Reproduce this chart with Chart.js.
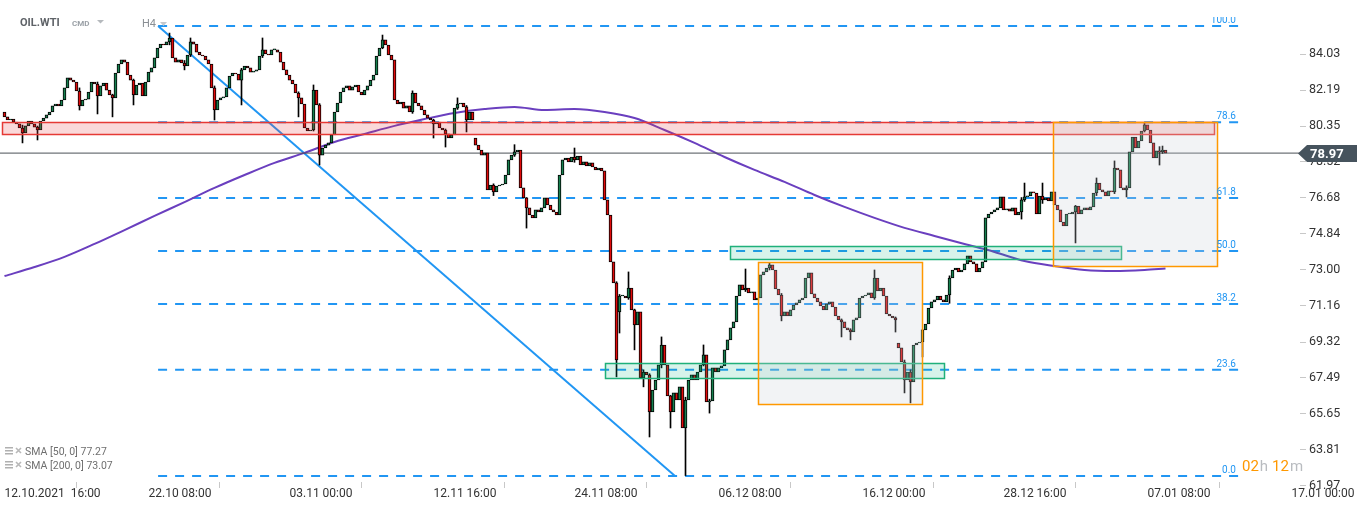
<!DOCTYPE html>
<html>
<head>
<meta charset="utf-8">
<script src="https://cdn.jsdelivr.net/npm/chart.js@4.4.0/dist/chart.umd.min.js"></script>
<style>
    html, body { margin: 0; padding: 0; background: #fff; }
    #wrap { width: 1368px; height: 509px; position: relative; }
</style>
</head>
<body>
<div id="wrap"><canvas id="oilChart"></canvas></div>
<script>
// OIL.WTI H4 candles, one entry per bar (bar 0 = 12.10.2021 16:00)
const opens = [
    81.07, 80.82, 80.66, 80.71, 80.56, 80.46, 80.25, 80.00, 80.36, 80.61,
    80.46, 80.30, 80.15, 80.61, 80.76, 80.92, 81.07, 81.38, 81.48, 81.38,
    81.68, 82.30, 82.81, 82.70, 82.60, 82.14, 81.38, 81.68, 81.73, 82.09,
    82.60, 82.50, 81.89, 82.40, 82.55, 82.19, 81.94, 81.79, 83.06, 83.52,
    83.73, 83.62, 82.96, 82.70, 81.94, 82.45, 82.55, 81.89, 82.60, 83.11,
    83.32, 83.83, 84.34, 84.54, 84.49, 84.65, 84.85, 83.83, 83.62, 83.73,
    83.57, 83.42, 83.98, 84.65, 84.54, 84.13, 83.98, 83.93, 83.73, 83.52,
    82.30, 81.17, 81.68, 81.79, 81.84, 82.30, 82.91, 83.06, 83.01, 82.70,
    83.22, 83.42, 83.32, 83.11, 83.16, 83.22, 83.93, 84.24, 84.03, 83.98,
    84.24, 84.24, 84.13, 83.62, 83.22, 82.96, 82.70, 82.50, 82.04, 81.79,
    81.48, 80.25, 80.10, 80.15, 82.19, 81.43, 78.87, 79.23, 79.38, 79.49,
    79.90, 81.07, 81.53, 82.09, 82.30, 82.40, 82.19, 82.35, 82.45, 82.09,
    81.94, 82.19, 82.40, 82.70, 82.96, 83.93, 84.34, 84.75, 84.49, 83.98,
    83.73, 81.68, 81.48, 81.58, 81.27, 81.38, 81.07, 82.04, 81.53, 81.38,
    81.17, 80.92, 80.76, 80.66, 80.46, 80.56, 80.25, 80.15, 79.95, 79.74,
    79.90, 81.27, 81.48, 81.53, 81.33, 80.66, 81.07, 79.74, 79.38, 79.13,
    78.87, 78.98, 77.09, 77.34, 76.99, 77.29, 77.34, 77.39, 77.85, 78.62,
    78.87, 79.03, 79.13, 77.19, 76.68, 76.17, 75.81, 75.66, 76.07, 75.96,
    76.17, 76.68, 76.32, 76.07, 75.96, 75.81, 77.85, 78.62, 78.72, 78.52,
    78.77, 78.62, 78.82, 78.36, 78.52, 78.31, 78.47, 78.26, 78.11, 78.21,
    78.06, 76.58, 75.81, 73.41, 72.34, 70.86, 71.67, 71.67, 71.57, 72.08,
    70.96, 70.19, 70.86, 67.49, 67.79, 67.64, 65.75, 66.87, 67.38, 68.15,
    69.17, 68.15, 66.57, 65.75, 66.72, 66.36, 67.03, 64.93, 66.36, 67.38,
    67.64, 67.38, 67.79, 68.15, 68.66, 66.26, 66.31, 68.00, 67.79, 68.00,
    68.10, 68.92, 69.43, 70.04, 70.35, 71.67, 72.24, 71.98, 72.08, 71.83,
    71.88, 71.47, 71.57, 72.75, 72.90, 73.10, 73.26, 73.00, 72.03, 71.72,
    70.65, 70.86, 70.65, 70.96, 71.21, 71.32, 71.47, 71.57, 72.59, 72.85,
    71.78, 71.57, 71.37, 71.16, 70.96, 71.27, 71.37, 71.11, 70.65, 70.45,
    70.35, 70.04, 69.94, 69.84, 70.45, 70.55, 71.57, 71.67, 71.72, 71.83,
    71.57, 72.59, 71.93, 72.08, 71.67, 70.75, 70.65, 70.55, 69.27, 69.02,
    68.30, 67.38, 67.79, 67.28, 69.17, 69.27, 69.32, 69.94, 70.24, 71.06,
    71.37, 71.47, 71.67, 71.47, 71.37, 71.72, 72.59, 73.00, 73.10, 72.90,
    73.00, 73.31, 73.72, 73.41, 73.31, 72.90, 73.10, 73.41, 75.66, 75.86,
    75.96, 76.07, 76.17, 76.73, 76.07, 76.12, 76.01, 76.17, 75.81, 75.96,
    76.58, 76.73, 76.78, 76.99, 76.93, 75.86, 76.78, 76.58, 76.68, 76.53,
    76.99, 76.32, 76.07, 75.45, 75.25, 75.86, 75.86, 75.96, 76.27, 75.86,
    76.07, 76.17, 76.07, 76.22, 76.93, 77.44, 77.09, 76.99, 76.78, 77.04,
    76.99, 78.21, 78.11, 77.19, 77.09, 77.19, 79.03, 79.79, 79.23, 79.59,
    80.10, 80.41, 80.15, 79.49, 78.72, 79.08, 79.03, 79.13
];
const closes = [
    80.82, 80.66, 80.71, 80.56, 80.46, 80.25, 80.00, 80.36, 80.61, 80.46,
    80.30, 80.15, 80.61, 80.76, 80.92, 81.07, 81.38, 81.48, 81.38, 81.68,
    82.30, 82.81, 82.70, 82.60, 82.14, 81.38, 81.68, 81.73, 82.09, 82.60,
    82.50, 81.89, 82.40, 82.55, 82.19, 81.94, 81.79, 83.06, 83.52, 83.73,
    83.62, 82.96, 82.70, 81.94, 82.45, 82.55, 81.89, 82.60, 83.11, 83.32,
    83.83, 84.34, 84.54, 84.49, 84.65, 84.85, 83.83, 83.62, 83.73, 83.57,
    83.42, 83.98, 84.65, 84.54, 84.13, 83.98, 83.93, 83.73, 83.52, 82.30,
    81.17, 81.68, 81.79, 81.84, 82.30, 82.91, 83.06, 83.01, 82.70, 83.22,
    83.42, 83.32, 83.11, 83.16, 83.22, 83.93, 84.24, 84.03, 83.98, 84.24,
    84.24, 84.13, 83.62, 83.22, 82.96, 82.70, 82.50, 82.04, 81.79, 81.48,
    80.25, 80.10, 80.15, 82.19, 81.43, 78.87, 79.23, 79.38, 79.49, 79.90,
    81.07, 81.53, 82.09, 82.30, 82.40, 82.19, 82.35, 82.45, 82.09, 81.94,
    82.19, 82.40, 82.70, 82.96, 83.93, 84.34, 84.75, 84.49, 83.98, 83.73,
    81.68, 81.48, 81.58, 81.27, 81.38, 81.07, 82.04, 81.53, 81.38, 81.17,
    80.92, 80.76, 80.66, 80.46, 80.56, 80.25, 80.15, 79.95, 79.74, 79.90,
    81.27, 81.48, 81.53, 81.33, 80.66, 81.07, 80.66, 79.38, 79.13, 78.87,
    78.98, 77.09, 77.34, 76.99, 77.29, 77.34, 77.39, 77.85, 78.62, 78.87,
    79.03, 79.13, 77.19, 76.68, 76.17, 75.81, 75.66, 76.07, 75.96, 76.17,
    76.68, 76.32, 76.07, 75.96, 75.81, 77.85, 78.62, 78.72, 78.52, 78.77,
    78.62, 78.82, 78.36, 78.52, 78.31, 78.47, 78.26, 78.11, 78.21, 78.06,
    76.58, 75.81, 73.41, 72.34, 68.40, 71.67, 71.67, 71.57, 72.08, 70.96,
    70.19, 70.86, 67.49, 67.79, 67.64, 65.75, 66.87, 67.38, 68.15, 69.17,
    68.15, 66.57, 65.75, 66.72, 66.36, 67.03, 64.93, 66.36, 67.38, 67.64,
    67.38, 67.79, 68.15, 68.66, 66.26, 66.31, 68.00, 67.79, 68.00, 68.10,
    68.92, 69.43, 70.04, 70.35, 71.67, 72.24, 71.98, 72.08, 71.83, 71.88,
    71.47, 71.57, 72.75, 72.90, 73.10, 73.26, 73.00, 72.03, 71.72, 70.65,
    70.86, 70.65, 70.96, 71.21, 71.32, 71.47, 71.57, 72.59, 72.85, 71.78,
    71.57, 71.37, 71.16, 70.96, 71.27, 71.37, 71.11, 70.65, 70.45, 70.35,
    70.04, 69.94, 69.84, 70.45, 70.55, 71.57, 71.67, 71.72, 71.83, 71.57,
    72.59, 71.93, 72.08, 71.67, 70.75, 70.65, 70.55, 70.45, 69.02, 68.30,
    67.38, 67.79, 67.28, 69.17, 69.27, 69.32, 69.94, 70.24, 71.06, 71.37,
    71.47, 71.67, 71.47, 71.37, 71.72, 72.59, 73.00, 73.10, 72.90, 73.00,
    73.31, 73.72, 73.41, 73.31, 72.90, 73.10, 73.41, 75.66, 75.86, 75.96,
    76.07, 76.17, 76.73, 76.07, 76.12, 76.01, 76.17, 75.81, 75.96, 76.58,
    76.73, 76.78, 76.99, 76.93, 75.86, 76.78, 76.58, 76.68, 76.53, 76.99,
    76.32, 76.07, 75.45, 75.25, 75.86, 75.86, 75.96, 76.27, 75.86, 76.07,
    76.17, 76.07, 76.22, 76.93, 77.44, 77.09, 76.99, 76.78, 77.04, 76.99,
    78.21, 78.11, 77.19, 77.09, 77.19, 79.03, 79.79, 79.23, 79.59, 80.10,
    80.41, 80.15, 79.49, 78.72, 79.08, 79.03, 79.13, 78.97
];
// visible wicks: [bar, high, low]
const wicks = [
    [6, 80.40, 79.49], [11, 80.35, 79.64], [25, 82.30, 81.17], [31, 82.60, 80.97],
    [36, 81.98, 80.82], [43, 82.75, 81.43], [55, 85.10, 84.50], [60, 83.70, 83.22],
    [62, 84.85, 83.90], [70, 82.40, 80.66], [79, 83.30, 81.43], [86, 84.85, 83.85],
    [98, 82.10, 80.82], [103, 82.45, 80.10], [105, 81.50, 78.36], [126, 85.00, 84.30],
    [136, 82.15, 81.00], [143, 80.70, 79.74], [147, 80.20, 79.28], [151, 81.79, 81.20],
    [154, 81.40, 80.05], [163, 77.40, 76.80], [170, 79.40, 78.80], [174, 76.70, 75.14],
    [190, 79.23, 78.50], [204, 72.40, 67.54], [205, 71.75, 69.78], [208, 72.90, 71.50],
    [210, 71.00, 68.92], [213, 67.90, 67.03], [215, 67.70, 64.47], [219, 69.58, 68.00],
    [222, 66.60, 64.93], [227, 66.50, 62.50], [233, 69.17, 68.10], [235, 66.40, 65.69],
    [247, 73.05, 71.90], [255, 73.36, 73.00], [259, 71.80, 70.40], [279, 70.50, 69.58],
    [282, 70.00, 69.43], [290, 73.00, 71.50], [297, 70.60, 69.83], [300, 68.40, 66.72],
    [302, 67.90, 66.21], [306, 69.94, 68.56], [315, 72.70, 71.30], [339, 76.70, 75.60],
    [340, 77.44, 76.50], [346, 77.44, 76.40], [357, 76.30, 74.38], [364, 77.70, 76.80],
    [370, 78.57, 76.90], [374, 77.30, 76.73], [380, 80.51, 80.05], [385, 79.30, 78.36],
    [386, 79.33, 78.95]
];

// SMA 200 read every 10 bars
const smaBars = [0, 10, 20, 30, 40, 50, 60, 70, 80, 90, 100, 110, 120, 130, 140, 150, 160, 170, 180, 190,
    200, 210, 220, 230, 240, 250, 260, 270, 280, 290, 300, 310, 320, 330, 340, 350, 360, 370, 380, 387];
const sma200 = [72.69, 73.15, 73.67, 74.33, 75.04, 75.76, 76.47, 77.19, 77.85, 78.47,
    78.98, 79.54, 79.95, 80.36, 80.71, 81.02, 81.22, 81.33, 81.17, 81.22,
    81.07, 80.76, 80.15, 79.49, 78.77, 78.11, 77.50, 76.83, 76.22, 75.66,
    75.15, 74.74, 74.33, 73.92, 73.46, 73.20, 73.00, 72.95, 73.00, 73.07];

// Fibonacci retracement drawn from the 85.46 high to the 62.48 low
const fibNames = ['100.0', '78.6', '61.8', '50.0', '38.2', '23.6', '0.0'];
const fibPrices = [85.46, 80.54, 76.68, 73.97, 71.26, 67.90, 62.48];
const fibBars = [51.2, 411.8];
const trendBars = [51.2, 223.5];
const trendPrices = [85.46, 62.48];
const lastPrice = 78.97;
const viewBars = [-1.5, 431.83];

const yTicks = [61.97, 63.81, 65.65, 67.49, 69.32, 71.16, 73.00, 74.84, 76.68, 78.52, 80.35, 82.19, 84.03];
const xTickBars = [0, 48, 95, 143, 190, 238, 286, 333, 381, 429];
const xTickLabels = ['12.10.2021  16:00', '22.10 08:00', '03.11 00:00', '12.11 16:00', '24.11 08:00',
    '06.12 08:00', '16.12 00:00', '28.12 16:00', '07.01 08:00', '17.01 00:00'];
const legendRows = ['SMA [50, 0] 77.27', 'SMA [200, 0] 73.07'];

// support / resistance zones and range boxes: [fromBar, toBar, top, bottom]
const redZone = [-0.8, 403.2, 80.54, 79.93];
const greenZones = [[241.8, 372.2, 74.23, 73.56], [200.3, 313.2, 68.25, 67.49]];
const rangeBoxes = [[251.2, 305.8, 73.41, 66.16], [349.5, 404.2, 80.54, 73.20]];

const AXIS_FONT = "'Roboto', sans-serif";

function boxPixels(chart, z) {
    const xs = chart.scales.x, ys = chart.scales.y;
    const x0 = Math.round(xs.getPixelForValue(z[0])) + 0.5;
    const x1 = Math.round(xs.getPixelForValue(z[1])) + 0.5;
    const y0 = Math.round(ys.getPixelForValue(z[2])) + 0.5;
    const y1 = Math.round(ys.getPixelForValue(z[3])) + 0.5;
    return [x0, y0, x1 - x0, y1 - y0];
}

function gambarZona(ctx, chart, z, fill, stroke, lw) {
    const r = boxPixels(chart, z);
    ctx.fillStyle = fill;
    ctx.fillRect(r[0], r[1], r[2], r[3]);
    ctx.strokeStyle = stroke;
    ctx.lineWidth = lw;
    ctx.strokeRect(r[0], r[1], r[2], r[3]);
}

const zonePlugin = {
    id: 'zones',
    afterDatasetsDraw(chart) {
        const ctx = chart.ctx;
        ctx.save();
        gambarZona(ctx, chart, redZone, 'rgba(230, 60, 65, 0.2)', '#e53935', 1.5);
        greenZones.forEach(z => gambarZona(ctx, chart, z, 'rgba(20, 185, 130, 0.17)', '#1fb07a', 1.5));
        rangeBoxes.forEach(z => gambarZona(ctx, chart, z, 'rgba(205, 208, 215, 0.25)', '#ff9800', 1.5));
        ctx.restore();
    }
};

const overlayPlugin = {
    id: 'overlay',
    afterDraw(chart) {
        const ctx = chart.ctx;
        const xs = chart.scales.x, ys = chart.scales.y;
        const area = chart.chartArea;
        ctx.save();

        // fib level captions
        ctx.save();
        ctx.beginPath();
        ctx.rect(0, 17, area.right, area.bottom);
        ctx.clip();
        ctx.font = '10px Roboto';
        ctx.fillStyle = '#2196f3';
        ctx.textAlign = 'right';
        ctx.textBaseline = 'alphabetic';
        const fx = xs.getPixelForValue(fibBars[1]) - 4;
        fibNames.forEach((n, i) => ctx.fillText(n, fx, ys.getPixelForValue(fibPrices[i]) - 3));
        ctx.restore();

        // instrument header
        ctx.textBaseline = 'middle';
        ctx.textAlign = 'left';
        ctx.font = 'bold 11px Roboto';
        ctx.fillStyle = '#5f6368';
        ctx.fillText('OIL.WTI', 20, 23);
        ctx.font = 'bold 8px Roboto';
        ctx.fillStyle = '#9aa0a6';
        ctx.fillText('CMD', 72, 24);
        ctx.fillStyle = '#b5b9bd';
        ctx.beginPath(); ctx.moveTo(97, 20); ctx.lineTo(104, 20); ctx.lineTo(100.5, 23.5); ctx.fill();
        ctx.font = '11px Roboto';
        ctx.fillStyle = '#8a8f94';
        ctx.fillText('H4', 142, 24);
        ctx.fillStyle = '#c4c8cc';
        ctx.beginPath(); ctx.moveTo(160, 22); ctx.lineTo(167, 22); ctx.lineTo(163.5, 26); ctx.fill();

        // indicator legend
        legendRows.forEach((t, i) => {
            const y = 451 + i * 14;
            ctx.fillStyle = '#b0b0b0';
            ctx.fillRect(5, y - 4, 8, 1.5);
            ctx.fillRect(5, y - 1, 8, 1.5);
            ctx.fillRect(5, y + 2, 8, 1.5);
            ctx.strokeStyle = '#b8b8b8';
            ctx.lineWidth = 1.6;
            ctx.beginPath();
            ctx.moveTo(16, y - 3); ctx.lineTo(21, y + 2);
            ctx.moveTo(21, y - 3); ctx.lineTo(16, y + 2);
            ctx.stroke();
            ctx.fillStyle = '#6f6f6f';
            ctx.font = '10.5px ' + AXIS_FONT;
            ctx.fillText(t, 25, y + 1);
        });

        // candle timer
        ctx.font = '15px Roboto';
        ctx.textBaseline = 'alphabetic';
        let tx = 1242;
        [['02', '#ff9800'], ['h', '#b9bcc0'], ['12', '#ff9800'], ['m', '#b9bcc0']].forEach((p, i) => {
            ctx.fillStyle = p[1];
            ctx.fillText(p[0], tx, 471);
            tx += ctx.measureText(p[0]).width + (i === 1 ? 4 : 1);
        });

        // last price tag
        const py = Math.round(ys.getPixelForValue(lastPrice)) + 0.5;
        const left = area.right - 2;
        ctx.fillStyle = '#46535d';
        ctx.beginPath();
        ctx.moveTo(left, py);
        ctx.lineTo(left + 9, py - 8.5);
        ctx.lineTo(1357, py - 8.5);
        ctx.lineTo(1357, py + 8.5);
        ctx.lineTo(left + 9, py + 8.5);
        ctx.closePath();
        ctx.fill();
        ctx.fillStyle = '#ffffff';
        ctx.font = 'bold 13px ' + AXIS_FONT;
        ctx.textBaseline = 'middle';
        ctx.fillText(lastPrice.toFixed(2), 1310, py + 1);

        ctx.restore();
    }
};

function buatGrafikMinyak() {
    const bodyData = closes.map((c, i) => ({ x: i, y: [opens[i], c] }));
    const bodyColors = closes.map((c, i) => (c >= opens[i] ? '#17804f' : '#e10b0b'));
    const wickData = wicks.map(w => ({ x: w[0], y: [w[2], w[1]] }));
    const flatLine = (price, from, to) => [{ x: from, y: price }, { x: to, y: price }];

    const fibSets = fibPrices.map(p => ({
        type: 'line',
        data: flatLine(p, fibBars[0], fibBars[1]),
        borderColor: '#2196f3',
        borderWidth: 2,
        borderDash: [9, 8],
        pointRadius: 0,
        order: 5
    }));

    new Chart(document.getElementById('oilChart'), {
        type: 'bar',
        data: {
            datasets: [
                {
                    type: 'bar',
                    data: bodyData,
                    backgroundColor: bodyColors,
                    borderColor: '#000000',
                    borderWidth: 1,
                    borderSkipped: false,
                    barThickness: 3,
                    minBarLength: 1,
                    grouped: false,
                    order: 0
                },
                {
                    type: 'bar',
                    data: wickData,
                    backgroundColor: '#000000',
                    borderWidth: 0,
                    barThickness: 1,
                    grouped: false,
                    order: 1
                },
                {
                    type: 'line',
                    data: smaBars.map((b, i) => ({ x: b, y: sma200[i] })),
                    borderColor: '#6a3fbf',
                    borderWidth: 2,
                    pointRadius: 0,
                    cubicInterpolationMode: 'monotone',
                    order: 3
                },
                {
                    type: 'line',
                    data: trendBars.map((b, i) => ({ x: b, y: trendPrices[i] })),
                    borderColor: '#2196f3',
                    borderWidth: 2,
                    pointRadius: 0,
                    order: 4
                },
                {
                    type: 'line',
                    data: flatLine(lastPrice, viewBars[0], viewBars[1]),
                    borderColor: '#4a5157',
                    borderWidth: 1,
                    pointRadius: 0,
                    order: 2
                },
                ...fibSets
            ]
        },
        options: {
            responsive: true,
            maintainAspectRatio: false,
            animation: false,
            layout: { padding: 0 },
            plugins: {
                legend: { display: false },
                tooltip: { enabled: false }
            },
            scales: {
                x: {
                    type: 'linear',
                    min: viewBars[0],
                    max: viewBars[1],
                    offset: false,
                    border: { display: false },
                    grid: { drawOnChartArea: false, tickLength: 6, color: '#c8c8c8' },
                    afterBuildTicks: axis => { axis.ticks = xTickBars.map(v => ({ value: v })); },
                    afterFit: axis => {
                        axis.height = 27;
                        axis.paddingLeft = 0;
                        axis.paddingRight = 0;
                    },
                    ticks: {
                        autoSkip: false,
                        maxRotation: 0,
                        align: 'start',
                        padding: -1,
                        color: '#333333',
                        font: { family: AXIS_FONT, size: 12 },
                        callback: (v, i) => xTickLabels[i]
                    }
                },
                y: {
                    type: 'linear',
                    position: 'right',
                    min: 62.17,
                    max: 86.79,
                    border: { display: false },
                    grid: { drawOnChartArea: false, tickLength: 6, color: '#c8c8c8' },
                    afterBuildTicks: axis => { axis.ticks = yTicks.map(v => ({ value: v })); },
                    afterFit: axis => {
                        axis.width = 68;
                        axis.paddingTop = 0;
                        axis.paddingBottom = 0;
                    },
                    ticks: {
                        padding: 3,
                        color: '#333333',
                        font: { family: AXIS_FONT, size: 12.5 },
                        callback: v => v.toFixed(2)
                    }
                }
            }
        },
        plugins: [zonePlugin, overlayPlugin]
    });
}

document.addEventListener('DOMContentLoaded', buatGrafikMinyak);
</script>
</body>
</html>
